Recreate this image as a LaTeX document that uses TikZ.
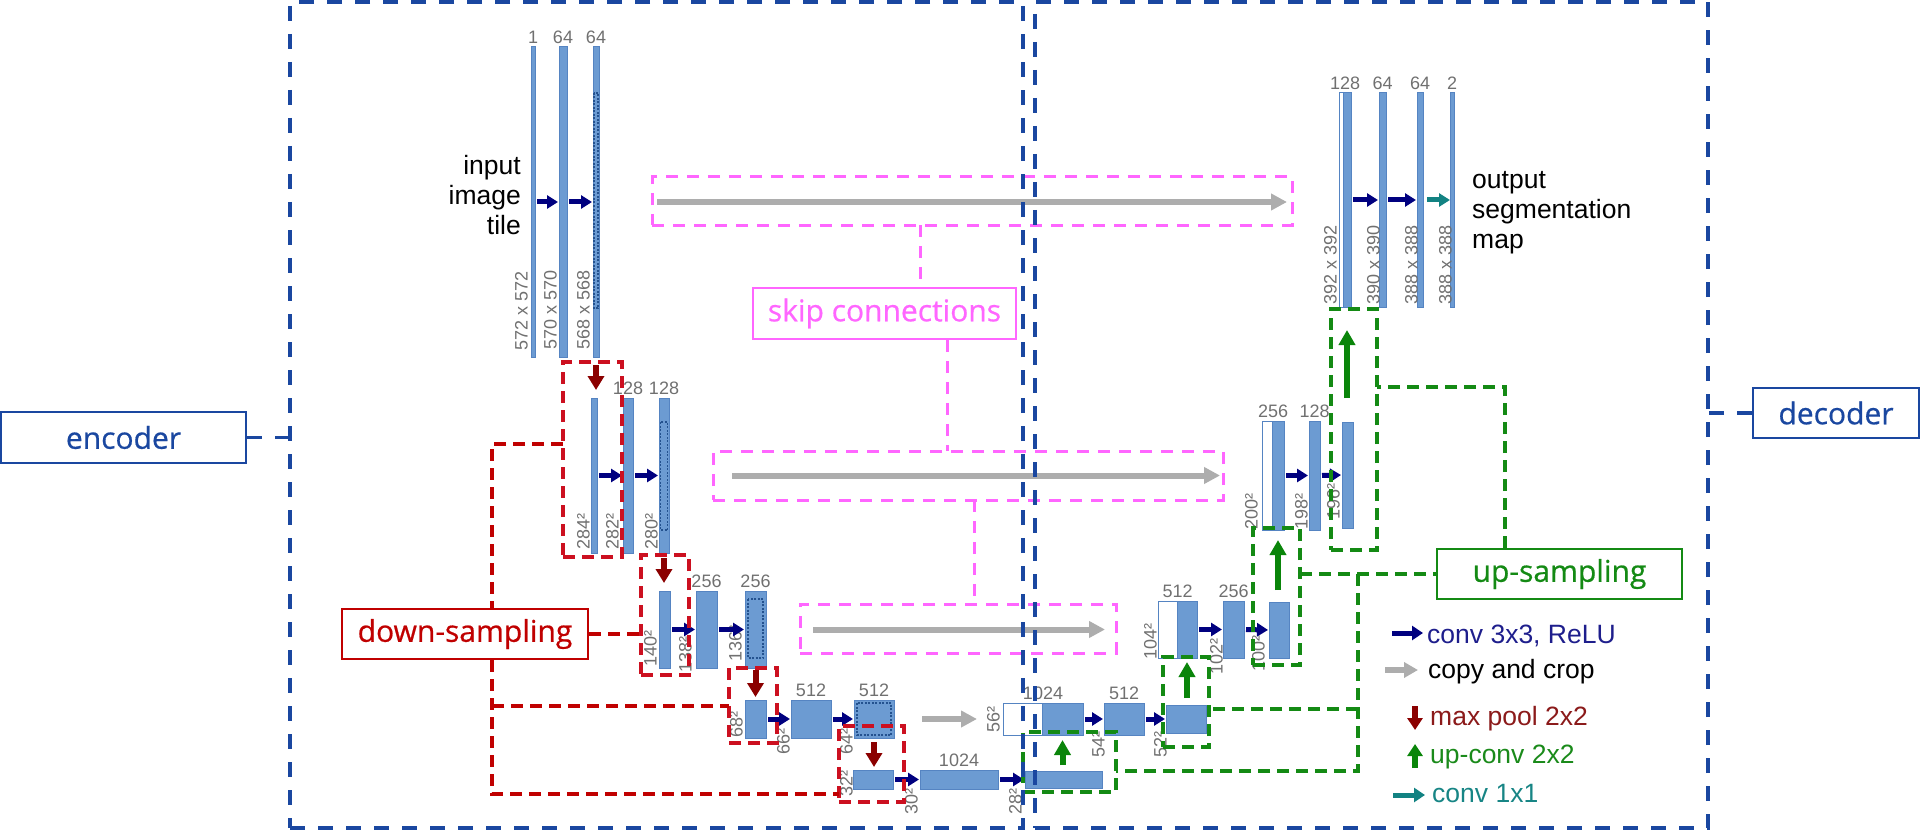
\documentclass[tikz,border=0pt]{standalone}
\usepackage{fontspec}
\setmainfont{Liberation Sans}
\newfontfamily\labfont[FakeBold=0.6]{Open Sans}
\usetikzlibrary{arrows.meta,calc}

\definecolor{fmfill}{HTML}{6C9BD2}
\definecolor{fmdraw}{HTML}{5584C2}
\definecolor{fmdot}{HTML}{24528F}
\definecolor{numgray}{HTML}{707070}
\definecolor{convblue}{HTML}{00007F}
\definecolor{copygray}{HTML}{ADADAD}
\definecolor{poolred}{HTML}{8B0000}
\definecolor{upgreen}{HTML}{0A850A}
\definecolor{convteal}{HTML}{128282}
\definecolor{encblue}{HTML}{1A47A0}
\definecolor{skippink}{HTML}{FF66FF}
\definecolor{dsred}{HTML}{C00000}
\definecolor{dsbox}{HTML}{CC1020}
\definecolor{usgreen}{HTML}{148A14}
\definecolor{legnavy}{HTML}{1E1E8C}
\definecolor{legred}{HTML}{8B1A1A}
\definecolor{leggreen}{HTML}{1A8A1A}
\definecolor{legteal}{HTML}{178585}

\newcommand{\placebox}[6][]{\node[#1, inner sep=0pt, outer sep=0pt, minimum width={(#5-#3)*1pt}, minimum height={(#6-#4)*1pt}] (#2) at ({(#3+#5)/2},{(#4+#6)/2}) {};}

\tikzset{
  fm/.style={draw=fmdraw, fill=fmfill, line width=1pt},
  fmw/.style={draw=fmdraw, fill=white, line width=1pt},
  crop/.style={draw=fmdot, line width=1.4pt, dash pattern=on 2pt off 1.5pt},
  num/.style={text=numgray, font=\fontsize{18}{18}\selectfont, inner sep=0pt},
  rot/.style={num, rotate=90, anchor=south west},
  toplab/.style={num, anchor=south, yshift=3pt},
  convarr/.style={draw=convblue, line width=5pt, -{Triangle[length=11pt,width=13pt]}, shorten <=2pt, shorten >=1pt},
  tealarr/.style={draw=convteal, line width=5pt, -{Triangle[length=11pt,width=13pt]}},
  copyarr/.style={draw=copygray, line width=6pt, -{Triangle[length=16pt,width=16pt]}},
  poolarr/.style={draw=poolred, line width=6pt, -{Triangle[length=14pt,width=16pt]}},
  uparr/.style={draw=upgreen, line width=6pt, -{Triangle[length=15pt,width=16pt]}},
  encdash/.style={draw=encblue, line width=3.5pt, dash pattern=on 15pt off 13pt},
  skipdash/.style={draw=skippink, line width=3pt, dash pattern=on 12pt off 9pt},
  dsdash/.style={draw=dsbox, line width=3.5pt, dash pattern=on 12pt off 7pt},
  dsline/.style={draw=dsred, line width=3.5pt, dash pattern=on 12pt off 7pt},
  usdash/.style={draw=usgreen, line width=3.5pt, dash pattern=on 12pt off 7pt},
  lblbox/.style={fill=white, line width=2pt, inner sep=0pt, font=\labfont\fontsize{30}{30}\selectfont},
  bigtxt/.style={font=\fontsize{26.5}{30}\selectfont, inner sep=0pt},
  legtext/.style={font=\fontsize{26.5}{30}\selectfont, inner sep=0pt, anchor=base west},
}

\begin{document}
\begin{tikzpicture}[x=1pt,y=-1pt]
\useasboundingbox (0,0) rectangle (1921,837);

% ---------------- encoder feature maps ----------------
\placebox[fm]{e1a}{531}{47}{535}{357}
\placebox[fm]{e1b}{559}{47}{567}{357}
\placebox[fm]{e1c}{593}{47}{599}{357}
\draw[crop] (594,93) rectangle (598,308);
\placebox[fm]{e2a}{591}{398}{597}{553}
\placebox[fm]{e2b}{623}{398}{633}{553}
\placebox[fm]{e2c}{659}{398}{669}{553}
\draw[crop] (660.5,422) rectangle (667.5,530);
\placebox[fm]{e3a}{659}{591}{670}{668}
\placebox[fm]{e3b}{696}{591}{717}{668}
\placebox[fm]{e3c}{745}{591}{766}{668}
\draw[crop] (748,599) rectangle (763,658);
\placebox[fm]{e4a}{745}{700}{766}{738}
\placebox[fm]{e4b}{791}{700}{831}{738}
\placebox[fm]{e4c}{854}{700}{894}{738}
\draw[crop] (857,703) rectangle (891,735);
\placebox[fm]{e5a}{853}{770}{893}{789}
\placebox[fm]{e5b}{920}{770}{998}{789}

% ---------------- decoder feature maps ----------------
\placebox[fm]{d5}{1025}{771}{1102}{788}
\placebox[fmw]{d4w}{1003}{703}{1042}{735}
\placebox[fm]{d4b}{1042}{703}{1083}{735}
\placebox[fm]{d4c}{1104}{703}{1144}{735}
\placebox[fm]{d4d}{1166}{705}{1206}{733}
\placebox[fmw]{d3w}{1158}{601}{1177}{658}
\placebox[fm]{d3b}{1177}{601}{1197}{658}
\placebox[fm]{d3c}{1223}{601}{1244}{658}
\placebox[fm]{d3d}{1269}{602}{1289}{658}
\placebox[fmw]{d2w}{1262}{421}{1272}{530}
\placebox[fm]{d2b}{1272}{421}{1284}{530}
\placebox[fm]{d2c}{1309}{421}{1320}{530}
\placebox[fm]{d2d}{1342}{422}{1353}{528}
\placebox[fmw]{d1w}{1339}{93}{1343}{307}
\placebox[fm]{d1b}{1343}{93}{1351}{307}
\placebox[fm]{d1c}{1379}{93}{1386}{307}
\placebox[fm]{d1d}{1417}{93}{1423}{307}
\placebox[fm]{d1e}{1450}{93}{1454}{307}

% ---------------- channel labels ----------------
\node[toplab] at (e1a.north) {1};
\node[toplab] at (e1b.north) {64};
\node[toplab] at (e1c.north) {64};
\node[toplab] at (e2b.north) {128};
\node[toplab] at (e2c.north) {128};
\node[toplab] at (e3b.north) {256};
\node[toplab] at (e3c.north) {256};
\node[toplab] at (e4b.north) {512};
\node[toplab] at (e4c.north) {512};
\node[toplab] at (e5b.north) {1024};
\node[toplab] at ($(d4w.north west)!0.5!(d4b.north east)$) {1024};
\node[toplab] at (d4c.north) {512};
\node[toplab] at ($(d3w.north west)!0.5!(d3b.north east)$) {512};
\node[toplab] at (d3c.north) {256};
\node[toplab] at ($(d2w.north west)!0.5!(d2b.north east)$) {256};
\node[toplab] at (d2c.north) {128};
\node[toplab] at ($(d1w.north west)!0.5!(d1b.north east)$) {128};
\node[toplab] at (d1c.north) {64};
\node[toplab] at (d1d.north) {64};
\node[toplab] at (d1e.north) {2};

% ---------------- size labels ----------------
\node[rot] at (528,351) {572 x 572};
\node[rot] at (557,350) {570 x 570};
\node[rot] at (590,350) {568 x 568};
\node[rot] at (590,550) {284²};
\node[rot] at (619,550) {282²};
\node[rot] at (658,550) {280²};
\node[rot] at (657,667) {140²};
\node[rot] at (692,673) {138²};
\node[rot] at (742,662) {136²};
\node[rot] at (743,738) {68²};
\node[rot] at (790,755) {66²};
\node[rot] at (853,755) {64²};
\node[rot] at (853,797) {32²};
\node[rot] at (918,815) {30²};
\node[rot] at (1022,815) {28²};
\node[rot] at (1000,733) {56²};
\node[rot] at (1105,758) {54²};
\node[rot] at (1167,758) {52²};
\node[rot] at (1157,660) {104²};
\node[rot] at (1223,675) {102²};
\node[rot] at (1265,672) {100²};
\node[rot] at (1258,530) {200²};
\node[rot] at (1308,530) {198²};
\node[rot] at (1340,520) {196²};
\node[rot] at (1337,305) {392 x 392};
\node[rot] at (1380,305) {390 x 390};
\node[rot] at (1418,305) {388 x 388};
\node[rot] at (1452,305) {388 x 388};

% ---------------- conv arrows ----------------
\draw[convarr] (e1a.east) -- (e1b.west);
\draw[convarr] (e1b.east) -- (e1c.west);
\draw[convarr] (e2a.east) -- (e2b.west);
\draw[convarr] (e2b.east) -- (e2c.west);
\draw[convarr] (e3a.east) -- (e3b.west);
\draw[convarr] (e3b.east) -- (e3c.west);
\draw[convarr] (e4a.east) -- (e4b.west);
\draw[convarr] (e4b.east) -- (e4c.west);
\draw[convarr] (e5a.east) -- (e5b.west);
\draw[convarr] (e5b.east) -- (d5.west);
\draw[convarr] (d4b.east) -- (d4c.west);
\draw[convarr] (d4c.east) -- (d4d.west);
\draw[convarr] (d3b.east) -- (d3c.west);
\draw[convarr] (d3c.east) -- (d3d.west);
\draw[convarr] (d2b.east) -- (d2c.west);
\draw[convarr] (d2c.east) -- (d2d.west);
\draw[convarr] (d1b.east) -- (d1c.west);
\draw[convarr] (d1c.east) -- (d1d.west);
\draw[tealarr, shorten <=4pt] (d1d.east) -- (d1e.west);

% ---------------- max pool arrows ----------------
\draw[poolarr, shorten <=8pt, shorten >=8pt] (e1c.south) -- (e1c.south |- e2a.north);
\draw[poolarr, shorten <=5pt, shorten >=8pt] (e2c.south) -- (e2c.south |- e3a.north);
\draw[poolarr, shorten <=2pt, shorten >=3pt] (e3c.south) -- (e3c.south |- e4a.north);
\draw[poolarr, shorten <=4pt, shorten >=3pt] (e4c.south) -- (e4c.south |- e5a.north);

% ---------------- up-conv arrows ----------------
\draw[uparr, shorten <=6pt, shorten >=5pt] (d4b.south |- d5.north) -- (d4b.south);
\draw[uparr, shorten <=7pt, shorten >=4pt] (d3b.south |- d4d.north) -- (d3b.south);
\draw[uparr, shorten <=12pt, shorten >=10pt] (d2b.south |- d3d.north) -- (d2b.south);
\draw[uparr, shorten <=24pt, shorten >=23pt] (d1b.south |- d2d.north) -- (d1b.south);

% ---------------- copy and crop arrows ----------------
\draw[copyarr, shorten <=58pt, shorten >=52pt] (e1c.east) -- (e1c.east -| d1w.west);
\draw[copyarr, shorten <=63pt, shorten >=42pt] (e2c.east) -- (e2c.east -| d2w.west);
\draw[copyarr, shorten <=47pt, shorten >=53pt] (e3c.east) -- (e3c.east -| d3w.west);
\draw[copyarr, shorten <=28pt, shorten >=26pt] (e4c.east) -- (e4c.east -| d4w.west);

% ---------------- texts ----------------
\node[bigtxt, align=right, anchor=east] (intext) at (521,195) {input\\image\\tile};
\node[bigtxt, align=left, anchor=west] (outtext) at (1472,213) {output\\segmentation\\map};

% ---------------- legend ----------------
\coordinate (lg1s) at (1392,633); \coordinate (lg1e) at (1423,633);
\coordinate (lg2s) at (1385,670); \coordinate (lg2e) at (1418,670);
\coordinate (lg3s) at (1415,706); \coordinate (lg3e) at (1415,730);
\coordinate (lg4s) at (1415,768); \coordinate (lg4e) at (1415,744);
\coordinate (lg5s) at (1393,795); \coordinate (lg5e) at (1425,795);
\draw[convblue, line width=5pt, -{Triangle[length=11pt,width=14pt]}] (lg1s) -- (lg1e);
\draw[copygray, line width=6pt, -{Triangle[length=14pt,width=15pt]}] (lg2s) -- (lg2e);
\draw[poolred, line width=6pt, -{Triangle[length=12pt,width=15pt]}] (lg3s) -- (lg3e);
\draw[upgreen, line width=6pt, -{Triangle[length=12pt,width=15pt]}] (lg4s) -- (lg4e);
\draw[convteal, line width=5pt, -{Triangle[length=11pt,width=14pt]}] (lg5s) -- (lg5e);
\node[legtext, text=legnavy] (lg1) at (1427,643) {conv 3x3, ReLU};
\node[legtext, text=black] (lg2) at (1428,678) {copy and crop};
\node[legtext, text=legred] (lg3) at (1430,725) {max pool 2x2};
\node[legtext, text=leggreen] (lg4) at (1430,763) {up-conv 2x2};
\node[legtext, text=legteal] (lg5) at (1432,802) {conv 1x1};

% ---------------- skip connection boxes ----------------
\placebox[skipdash]{sk1}{652}{177}{1292}{225}
\placebox[skipdash]{sk2}{713}{451}{1223}{500}
\placebox[skipdash]{sk3}{800}{604}{1116}{653}
\node[lblbox, draw=skippink, text=skippink, minimum width=263pt, minimum height=51pt] (lblskip) at (884.5,313.5) {skip connections};
\coordinate (skA) at (920,0);
\coordinate (skB) at (947,0);
\coordinate (skC) at (974,0);
\draw[skipdash] (sk1.south -| skA) -- (lblskip.north -| skA);
\draw[skipdash] (lblskip.south -| skB) -- (sk2.north -| skB);
\draw[skipdash] (sk2.south -| skC) -- (sk3.north -| skC);

% ---------------- down-sampling boxes ----------------
\placebox[dsdash]{rb1}{563}{362}{622}{557}
\placebox[dsdash]{rb2}{641}{555}{689}{675}
\placebox[dsdash]{rb3}{729}{668}{777}{743}
\placebox[dsdash]{rb4}{839}{726}{904}{802}
\node[lblbox, draw=dsred, text=dsred, minimum width=246pt, minimum height=50pt] (lblds) at (465,634) {down-sampling};
\coordinate (rc1) at (492,444);
\coordinate (rc3) at (492,706);
\coordinate (rc4) at (492,794);
\draw[dsline] (rb1.west |- rc1) -- (rc1) -- (rc1 |- lblds.north);
\draw[dsline] (rc1 |- lblds.south) -- (rc4) -- (rc4 -| rb4.west);
\draw[dsline] (rc3) -- (rc3 -| rb3.west);
\draw[dsline] (lblds.east) -- (lblds.east -| rb2.west);

% ---------------- up-sampling boxes ----------------
\placebox[usdash]{gb1}{1023}{732}{1116}{792}
\placebox[usdash]{gb2}{1163}{657}{1209}{747}
\placebox[usdash]{gb3}{1253}{528}{1300}{665}
\placebox[usdash]{gb4}{1331}{309}{1377}{550}
\node[lblbox, draw=usgreen, text=usgreen, minimum width=245pt, minimum height=50pt] (lblus) at (1559.5,574) {up-sampling};
\coordinate (gc4) at (1505,387);
\coordinate (gv) at (1358,574);
\coordinate (gc2) at (1358,709);
\coordinate (gc1) at (1358,771);
\draw[usdash] (gb3.east |- lblus.west) -- (lblus.west);
\draw[usdash] (lblus.north -| gc4) -- (gc4) -- (gc4 -| gb4.east);
\draw[usdash] (gv) -- (gc1) -- (gc1 -| gb1.east);
\draw[usdash] (gc2) -- (gc2 -| gb2.east);

% ---------------- encoder / decoder ----------------
\placebox[encdash]{encbox}{290}{2}{1023}{828}
\placebox[encdash]{decbox}{1035}{2}{1708}{828}
\node[lblbox, draw=encblue, text=encblue, minimum width=245pt, minimum height=51pt] (lblenc) at (123.5,437.5) {encoder};
\node[lblbox, draw=encblue, text=encblue, minimum width=166pt, minimum height=50pt] (lbldec) at (1836,413) {decoder};
\draw[encdash] (lblenc.east) -- (lblenc.east -| encbox.west);
\draw[encdash] (lbldec.west) -- (lbldec.west -| decbox.east);
\end{tikzpicture}
\end{document}
